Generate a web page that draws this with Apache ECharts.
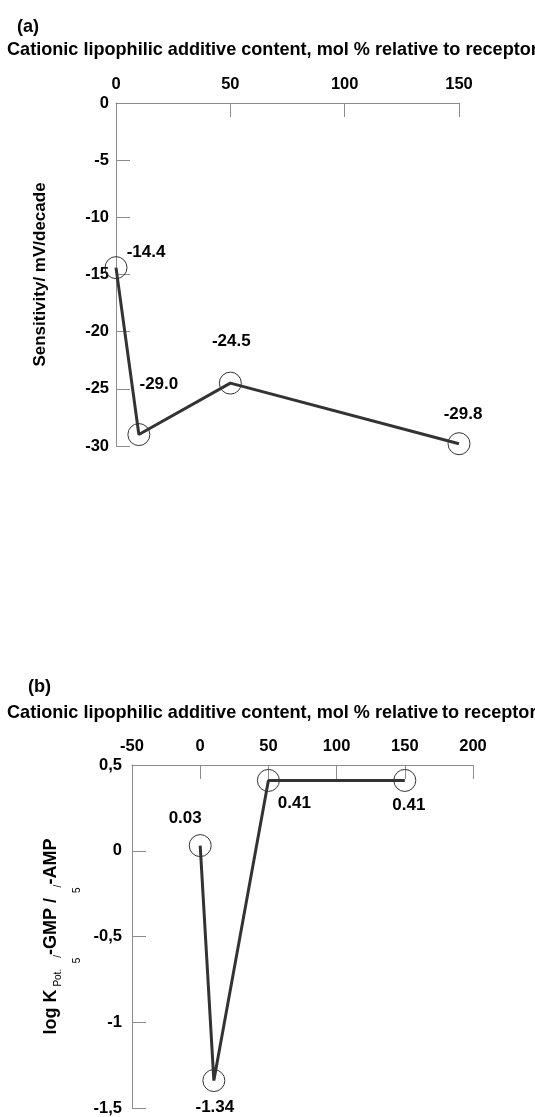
<!DOCTYPE html>
<html><head><meta charset="utf-8">
<script src="https://cdn.jsdelivr.net/npm/echarts@6/dist/echarts.min.js"></script>
<style>html,body{margin:0;padding:0;background:#fff}#c{width:535px;height:1117px}</style>
</head><body><div id="c"></div>
<script>
// ---- data ----
const contentA = [0, 10, 50, 150];
const sensitivity = [-14.4, -29.0, -24.5, -29.8];
const contentB = [0, 10, 50, 150];
const logK = [0.03, -1.34, 0.41, 0.41];
const yTicksB = [0.5, 0, -0.5, -1, -1.5];
const yTickLabelsB = ['0,5', '0', '-0,5', '-1', '-1,5'];
const xTitle = 'Cationic lipophilic additive content, mol % relative to receptor';
const xTitleB = 'Cationic lipophilic additive content, mol % relative\u2009to receptor';

// ---- styling ----
const FONT = "'Liberation Sans', Arial, sans-serif";
const AX = '#8c8c8c';
const offA = [[30, -15], [20, -50], [1, -42], [4, -29]];
const offB = [[-15, -27], [1, 27], [26, 23], [4, 25]];

const labelStyle = { fontFamily: FONT, fontWeight: 'bold', fontSize: 17, color: '#000' };
const tickStyle = { fontFamily: FONT, fontWeight: 'bold', fontSize: 16.5, color: '#000' };
const titleStyle = { fontFamily: FONT, fontWeight: 'bold', fontSize: 18.1, color: '#000' };

function mkData(xs, ys, offs, digits) {
  return xs.map((x, i) => ({
    value: [x, ys[i]],
    label: Object.assign({ show: true, position: 'inside', offset: offs[i],
      formatter: ys[i].toFixed(digits) }, labelStyle)
  }));
}
const axisCommon = {
  axisLine: { show: true, onZero: false, lineStyle: { color: AX, width: 1 } },
  axisTick: { show: true, inside: true, length: 14, lineStyle: { color: AX, width: 1 } },
  splitLine: { show: false }
};

const chart = echarts.init(document.getElementById('c'), null, { renderer: 'canvas' });
chart.setOption({
  backgroundColor: '#fff',
  animation: false,
  title: [
    { text: '(a)', left: 12, top: 13, textStyle: titleStyle },
    { text: xTitle, left: 2, top: 36, textStyle: titleStyle },
    { text: '(b)', left: 23, top: 673, textStyle: titleStyle },
    { text: xTitleB, left: 2, top: 699, textStyle: titleStyle }
  ],
  grid: [
    { left: 116, top: 103, width: 343, height: 343 },
    { left: 132, top: 765, width: 341, height: 343 }
  ],
  xAxis: [
    Object.assign({ gridIndex: 0, type: 'value', position: 'top', min: 0, max: 150, interval: 50,
      axisLabel: Object.assign({ margin: 10 }, tickStyle) }, axisCommon),
    Object.assign({ gridIndex: 1, type: 'value', position: 'top', min: -50, max: 200, interval: 50,
      axisLabel: Object.assign({ margin: 10 }, tickStyle) }, axisCommon)
  ],
  yAxis: [
    Object.assign({ gridIndex: 0, type: 'value', min: -30, max: 0, interval: 5,
      axisLabel: Object.assign({ margin: 7 }, tickStyle),
      name: 'Sensitivity/ mV/decade', nameLocation: 'middle', nameRotate: 90, nameGap: 67,
      nameTextStyle: labelStyle }, axisCommon),
    Object.assign({ gridIndex: 1, type: 'value', min: -1.5, max: 0.5, interval: 0.5,
      axisLabel: Object.assign({ margin: 10,
        formatter: v => { const i = yTicksB.findIndex(t => Math.abs(t - v) < 1e-9); return i >= 0 ? yTickLabelsB[i] : ''; } }, tickStyle),
      name: '{b|log K}{sup| Pot.}{sp|  }{sub|5}{sup|/}{b|-GMP / }{sub|5}{sup|/}{b|-AMP}',
      nameLocation: 'middle', nameRotate: 90, nameGap: 43,
      nameTextStyle: {
        fontFamily: FONT, fontWeight: 'bold', fontSize: 18, color: '#000',
        rich: {
          b: { fontFamily: FONT, fontWeight: 'bold', fontSize: 18, color: '#000', lineHeight: 22, verticalAlign: 'top' },
          sup: { fontFamily: FONT, fontWeight: 'normal', fontSize: 10, color: '#000', lineHeight: 10, padding: [12, 0, 0, 0], verticalAlign: 'top' },
          sub: { fontFamily: FONT, fontWeight: 'normal', fontSize: 10, color: '#000', lineHeight: 10, padding: [31, 0, 0, 0], verticalAlign: 'top' },
          sp: { fontSize: 10, lineHeight: 10, verticalAlign: 'top' }
        }
      } }, axisCommon)
  ],
  series: [
    { type: 'line', xAxisIndex: 0, yAxisIndex: 0, data: mkData(contentA, sensitivity, offA, 1),
      symbol: 'circle', symbolSize: 22,
      itemStyle: { color: 'rgba(0,0,0,0)', borderColor: '#333', borderWidth: 1 },
      lineStyle: { color: '#333', width: 3 } },
    { type: 'line', xAxisIndex: 1, yAxisIndex: 1, data: mkData(contentB, logK, offB, 2),
      symbol: 'circle', symbolSize: 22,
      itemStyle: { color: 'rgba(0,0,0,0)', borderColor: '#333', borderWidth: 1 },
      lineStyle: { color: '#333', width: 3 } }
  ]
});
</script></body></html>
